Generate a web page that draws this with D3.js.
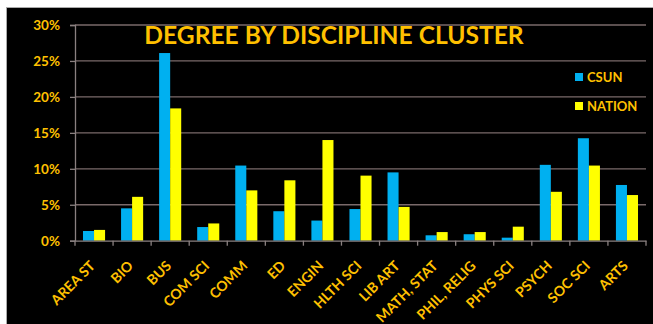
<!DOCTYPE html>
<html><head><meta charset="utf-8">
<script src="https://cdn.jsdelivr.net/npm/d3@7"></script>
<style>
html,body{margin:0;padding:0;background:#fff;}
svg{display:block;}
</style></head>
<body>
<script>
const categories = ["AREA ST","BIO","BUS","COM SCI","COMM","ED","ENGIN","HLTH SCI","LIB ART","MATH, STAT","PHIL, RELIG","PHYS SCI","PSYCH","SOC SCI","ARTS"];
const csun   = [1.35, 4.5, 26.1, 1.9, 10.45, 4.1, 2.8, 4.4, 9.5, 0.75, 0.9, 0.42, 10.55, 14.25, 7.75];
const nation = [1.5, 6.1, 18.4, 2.4, 7.0, 8.4, 14.0, 9.05, 4.7, 1.2, 1.2, 1.95, 6.8, 10.45, 6.35];
const yTicks = [0,5,10,15,20,25,30];
const seriesNames = ["CSUN","NATION"];
const colors = ["#00B0F0","#FFFF00"];
const gold = "#FFC000";
const title = "DEGREE BY DISCIPLINE CLUSTER";

(function(){
const W = 653, H = 324;
const svg = d3.select("body").append("svg").attr("width",W).attr("height",H);
svg.append("rect").attr("x",0).attr("y",0).attr("width",W).attr("height",H).attr("fill","#fff");
svg.append("rect").attr("x",6).attr("y",7).attr("width",W-6).attr("height",H-7).attr("fill","#000");
svg.append("line").attr("x1",6.5).attr("x2",6.5).attr("y1",7).attr("y2",H).attr("stroke","#aaa").attr("stroke-width",1);
svg.append("line").attr("x1",6).attr("x2",W).attr("y1",7.5).attr("y2",7.5).attr("stroke","#aaa").attr("stroke-width",1);

const mLeft = 75, mRight = 646, mTop = 25, mBottom = 240.7;
const x = d3.scaleBand().domain(categories).range([mLeft,mRight]).paddingInner(0.42).paddingOuter(0.21);
const x1 = d3.scaleBand().domain(seriesNames).range([0,x.bandwidth()]);
const y = d3.scaleLinear().domain([0,30]).range([mBottom,mTop]);

// gridlines
svg.append("g").selectAll("line").data(yTicks.filter(d=>d>0)).join("line")
  .attr("x1",mLeft).attr("x2",mRight).attr("y1",d=>y(d)).attr("y2",d=>y(d))
  .attr("stroke","#7a6a6a").attr("stroke-width",1.3);

// y axis
const yAxis = svg.append("g").attr("transform",`translate(${mLeft},0)`)
  .call(d3.axisLeft(y).tickValues(yTicks).tickFormat(d=>d+"%").tickSize(5).tickPadding(10));
yAxis.select(".domain").attr("stroke","#8a8080").attr("stroke-width",1.3);
yAxis.selectAll(".tick line").attr("stroke","#8a8080").attr("stroke-width",1.3);
yAxis.selectAll("text").attr("fill",gold).attr("font-family","Lato, 'Open Sans', sans-serif")
  .attr("font-weight","bold").attr("font-size","13.5px");

// bars
const data = categories.map((c,i)=>({c, vals:[csun[i],nation[i]]}));
const grp = svg.append("g").selectAll("g").data(data).join("g")
  .attr("transform",d=>`translate(${x(d.c)},0)`);
grp.selectAll("rect").data(d=>d.vals.map((v,k)=>({v,k}))).join("rect")
  .attr("x",d=>x1(seriesNames[d.k])).attr("width",x1.bandwidth())
  .attr("y",d=>y(d.v)).attr("height",d=>mBottom-y(d.v))
  .attr("fill",d=>colors[d.k]);

// x axis
const step = x.step();
const xAxis = svg.append("g").attr("transform",`translate(0,${mBottom})`)
  .call(d3.axisBottom(x).tickSize(0).tickPadding(0));
xAxis.select(".domain").attr("stroke","#8a8080").attr("stroke-width",1.3);
svg.append("g").selectAll("line").data(d3.range(categories.length+1)).join("line")
  .attr("x1",i=>mLeft+i*step).attr("x2",i=>mLeft+i*step)
  .attr("y1",mBottom).attr("y2",mBottom+5).attr("stroke","#8a8080").attr("stroke-width",1.3);
xAxis.selectAll(".tick text")
  .attr("fill",gold).attr("font-family","Lato, 'Open Sans', sans-serif")
  .attr("font-weight","bold").attr("font-size","14px")
  .attr("text-anchor","end").attr("dy","0")
  .attr("transform",`translate(2,26) rotate(-45)`);

// title
svg.append("text").attr("x",334).attr("y",44).attr("text-anchor","middle")
  .attr("fill",gold).attr("font-family","Lato, 'Open Sans', sans-serif")
  .attr("font-weight","bold").attr("font-size","24.6px").text(title);

// legend
const lg = svg.append("g").selectAll("g").data(seriesNames).join("g")
  .attr("transform",(d,i)=>`translate(575,${73+i*29})`);
lg.append("rect").attr("width",8).attr("height",8).attr("fill",(d,i)=>colors[i]);
lg.append("text").attr("x",12).attr("y",9).text(d=>d)
  .attr("fill",gold).attr("font-family","Lato, 'Open Sans', sans-serif")
  .attr("font-weight","bold").attr("font-size","13px");
})();
</script>
</body></html>
